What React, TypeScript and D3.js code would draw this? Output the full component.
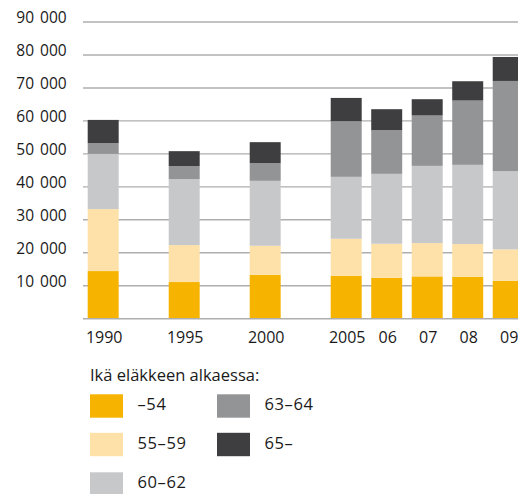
import React from "react";
import * as d3 from "d3";

const categories = ["1990", "gapA", "1995", "gapB", "2000", "gapC", "2005", "06", "07", "08", "09"];
const years = ["1990", "1995", "2000", "2005", "06", "07", "08", "09"];
const seriesNames = ["–54", "55–59", "60–62", "63–64", "65–"];
const s54 = [14450, 11120, 13330, 13030, 12420, 12830, 12730, 11520];
const s5559 = [18790, 11210, 8790, 11210, 10310, 10110, 9910, 9510];
const s6062 = [16760, 20000, 19700, 18790, 21210, 23420, 24030, 23730];
const s6364 = [3240, 3940, 5360, 16880, 13240, 15280, 19510, 27360];
const s65 = [7060, 4550, 6370, 7060, 6370, 4940, 5850, 7270];
const yTicks = [10000, 20000, 30000, 40000, 50000, 60000, 70000, 80000, 90000];
const tickLabels = ["10 000", "20 000", "30 000", "40 000", "50 000", "60 000", "70 000", "80 000", "90 000"];
const legendTitle = "Ikä eläkkeen alkaessa:";
const colors = ["#F6B400", "#FDE1A9", "#C7C8CA", "#939496", "#3E3E40"];

const W = 518;
const H = 494;
const FONT = "'Open Sans', 'Noto Sans', sans-serif";

export default function App() {
  const allSeries = [s54, s5559, s6062, s6364, s65];
  const rows = years.map((y, i) => {
    const r: any = { year: y };
    seriesNames.forEach((n, k) => (r[n] = allSeries[k][i]));
    return r;
  });
  const stacked = d3.stack().keys(seriesNames)(rows as any);

  const x = d3
    .scaleBand<string>()
    .domain(categories)
    .range([87.7, 523.7])
    .paddingInner(0.235)
    .paddingOuter(0);
  const y = d3.scaleLinear().domain([0, 90000]).range([318.7, 22]);

  const legendItems = seriesNames.map((n, i) => ({
    name: n,
    color: colors[i],
    col: i < 3 ? 0 : 1,
    row: i < 3 ? i : i - 3,
  }));
  const colX = [90, 217];
  const rowY = [394.3, 432.8, 472.3];

  return (
    <svg
      width={W}
      height={H}
      style={{ position: "absolute", left: 0, top: 0, background: "#fff" }}
      fontFamily={FONT}
    >
      {yTicks.map((t) => (
        <line key={t} x1={83} x2={W} y1={y(t)} y2={y(t)} stroke="#AEAEAE" strokeWidth={1.4} />
      ))}
      {yTicks.map((t, i) => (
        <text
          key={"l" + t}
          x={66.7}
          y={y(t) + 1}
          textAnchor="end"
          fontSize={15.5}
          fill="#1a1a1a"
          style={{ wordSpacing: "2px" }}
        >
          {tickLabels[i]}
        </text>
      ))}
      {stacked.map((layer, k) => (
        <g key={seriesNames[k]} fill={colors[k]}>
          {layer.map((d: any, i: number) => (
            <rect
              key={years[i]}
              x={x(years[i])}
              width={x.bandwidth()}
              y={y(d[1])}
              height={y(d[0]) - y(d[1])}
            />
          ))}
        </g>
      ))}
      <line x1={83} x2={W} y1={y(0)} y2={y(0)} stroke="#AEAEAE" strokeWidth={1.6} />
      {years.map((yr) => (
        <text
          key={"x" + yr}
          x={(x(yr) as number) + x.bandwidth() / 2 + 1}
          y={343.3}
          textAnchor="middle"
          fontSize={16}
          fill="#1a1a1a"
        >
          {yr}
        </text>
      ))}
      <text x={90} y={381.3} fontSize={16.5} fill="#1a1a1a">
        {legendTitle}
      </text>
      {legendItems.map((it) => (
        <g key={it.name}>
          <rect x={colX[it.col]} y={rowY[it.row]} width={33} height={23.4} fill={it.color} />
          <text
            x={colX[it.col] + 47.5}
            y={rowY[it.row] + 16}
            fontSize={16.5}
            fill="#1a1a1a"
            style={{ letterSpacing: "0.6px" }}
          >
            {it.name}
          </text>
        </g>
      ))}
    </svg>
  );
}
